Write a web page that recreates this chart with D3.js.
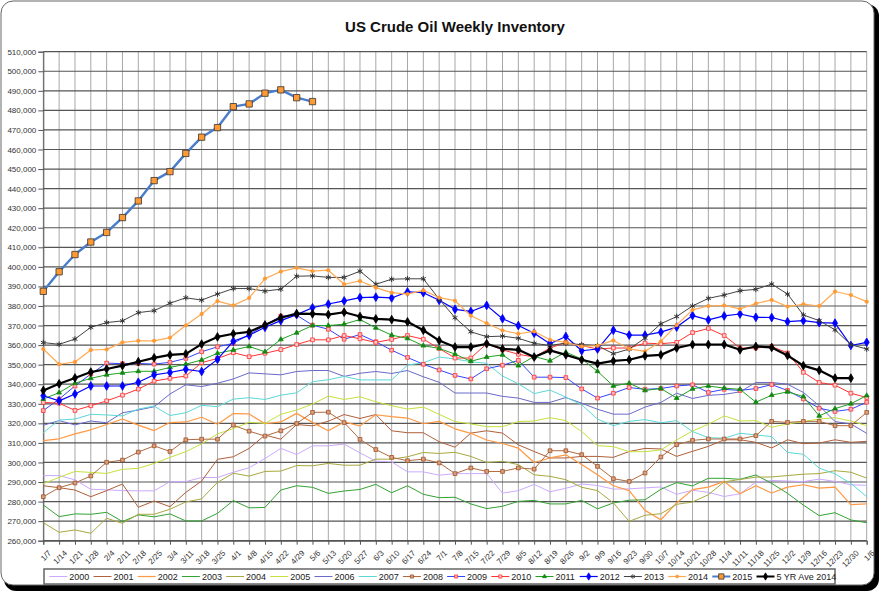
<!DOCTYPE html>
<html lang="en">
<head>
<meta charset="utf-8">
<title>US Crude Oil Weekly Inventory</title>
<script src="https://cdn.jsdelivr.net/npm/d3@7/dist/d3.min.js"></script>
<style>
  body { margin: 0; background: #fff; }
  text { font-family: Arial, "Liberation Sans", sans-serif; }
</style>
</head>
<body>
<script>
// week labels (x axis)
var weeks = ["1/7","1/14","1/21","1/28","2/4","2/11","2/18","2/25","3/4","3/11","3/18","3/25",
  "4/1","4/8","4/15","4/22","4/29","5/6","5/13","5/20","5/27","6/3","6/10","6/17","6/24",
  "7/1","7/8","7/15","7/22","7/29","8/5","8/12","8/19","8/26","9/2","9/9","9/16","9/23","9/30",
  "10/7","10/14","10/21","10/28","11/4","11/11","11/18","11/25","12/2","12/9","12/16","12/23","12/30","1/6"];

// y axis ticks, thousand barrels
var yTicks = [260,270,280,290,300,310,320,330,340,350,360,370,380,390,400,410,420,430,440,450,460,470,480,490,500,510];

// weekly inventory, thousand barrels (values in thousands of the axis unit)
var y2000 = [293.3,293.3,291.1,286.3,286,285.6,285.5,285.5,290.2,290.2,292.3,292.3,295,297.3,302,307.2,304.1,308.5,308.5,309.4,304.9,300.7,300.3,295.2,295.2,293.5,294.3,294.3,294.3,284.3,285.6,288.8,285,286.8,289,288.2,286.4,286.5,287,287.5,283.7,285.8,284.7,282.6,284,290,290.8,290.5,290.2,291.5,290.3,288.6,288.3];
var y2001 = [288.1,287.1,285.9,282.5,285.6,289,277.1,280.3,277.4,284.7,290.5,301.6,302.9,307.2,314,311.9,319.4,318.7,321.1,324.5,322.5,324.5,316.2,315.2,315.2,310.6,307.8,315,316.2,315,309,305.6,302.3,302.3,303.1,303.1,302.6,305.6,307.2,306.9,303.1,305.7,308.2,311.6,311.6,310.3,307.4,311.6,309.6,309.9,311.6,310.3,310.8];
var y2002 = [311.2,312.1,314.6,316.7,319.4,322.2,319.1,316.3,320.4,320.7,323.1,319.5,325,324.8,319.8,320.7,325.1,320.5,316.2,320.7,318.7,324.4,323.4,322.7,319.8,321,317.2,314.9,311.5,309.7,307.3,300,302.3,303.9,298.9,293.7,288.1,285.6,275.5,270.7,279.3,286.1,287.4,290.3,284,288.1,284.4,287.4,288.6,286.9,287.4,278.4,278.8];
var y2003 = [278.3,272.3,273.7,273.5,274.5,269.8,273.2,272.2,273.7,270.1,270.1,274,280.5,276.8,277,285.9,288.1,287.3,284.2,285.4,286.2,288.8,284.5,288.1,283.7,282,282.2,278.8,276.4,277.6,280.1,280.6,278.8,278.8,280.6,276.3,279.3,280.7,280.9,286.3,289.7,288,291.9,291.9,291.4,293.6,289.3,284.2,278.2,272.8,274.3,270.6,269.2];
var y2004 = [269.2,264.3,265.5,263.8,271.5,268.9,273.5,273.5,276.1,279.8,281.4,289.8,294.5,293,295.4,295.6,298.4,298.3,299.5,298.6,298.6,301.7,301.7,302.9,305.1,304.6,305.2,303.1,300,300.6,298.9,293.7,292.9,291.2,287.3,285.6,279.3,269.9,273,273.8,278.6,279.8,283.5,290.1,291.3,292.5,292.6,293.3,294,294.3,295.8,295,292];
var y2005 = [289.1,292.4,295.4,294.9,294.4,296.5,297,299.5,302.6,305.5,309.5,314.6,317.3,320.5,320,324.6,326.8,329.8,333.9,332.2,333.6,331,329,327.3,328.3,324.6,320.9,319.7,318.3,318.3,320.9,321.2,322.9,321.4,315.8,308.6,308.1,305.5,305.5,306.4,311.5,316.1,319.5,323.8,321.2,321.4,318,319.7,320.9,322.2,322.9,321.2,318.8];
var y2006 = [319,321.4,319.2,321.2,320.3,325.4,326.8,328.5,335,339.7,338.8,340.5,342.7,345.8,345.3,344.8,346.5,347,347,344,345.6,346.5,345.5,347,343.8,341,335.5,335.5,335.5,333.8,332.9,330.7,330.7,333.2,330.3,327.2,324.7,324.7,328.3,330.7,335.4,332.7,334.3,334.8,336.1,340.9,340.9,340,335.8,329,320.9,319.7,314.9];
var y2007 = [315.2,321.7,322.2,324.6,324.3,323.8,327.3,328.8,324,325.4,329.2,328.5,332.4,333.1,332.2,334.4,335.6,341.3,342.3,344,342.2,342.2,342.2,349.8,351,353.9,352.9,351.5,350.7,344.2,340.2,335.2,337,333.4,329.5,322.2,318.8,321,321.9,320.3,321.4,315.8,312.7,312.4,314.9,314.1,313.2,305.1,304.2,297.1,294.2,289.3,282.5];
var y2008 = [282.5,287.1,289.5,293.1,300.1,301.2,305.3,308.5,305.6,311.6,311.9,311.9,319.1,316,313.5,316.2,319.9,325.6,325.7,320.4,311.8,306.6,302.6,300.9,301.7,299.8,294.3,297.2,295.4,295.4,297.2,296.6,306,306,304,298,291.7,290.3,294.6,302.8,309.1,311.3,312,312,312,313.7,321,320.5,321,321,318.8,318.8,325.6];
var y2009 = [326.5,332.4,339.1,345.2,350.8,350.5,350.6,350.3,351.2,353.2,356.6,359.1,360.9,365.4,370.2,374.8,375.3,370.2,368.1,363,365.4,361.7,357.4,353.7,350.2,347.3,344.5,342.7,347.9,349.7,352.2,343.6,343.6,343.4,337.6,332.9,335.4,338.3,337.4,337.8,339.1,339.7,335.8,337.4,336.8,337.8,339.8,336.8,332.5,327.7,326.1,327.2,330.8];
var y2010 = [330.7,330.3,326.6,329,331.5,334.4,337.5,341.6,343,344.2,351,353.2,356.1,354.1,355.8,357.7,360.3,362.7,362.7,364.9,363.2,361.4,362.9,364.9,363,358.3,353.4,353.4,360.7,357.6,355.3,353.9,358.5,361.4,359.7,358,358.5,358.5,361,360.7,361.4,366.4,368.5,364.9,358.5,358.5,359.3,356,346.1,340.9,339.5,335.4,333.2];
var y2011 = [332.4,335.7,340.5,343,344.8,345.8,346.6,346.6,348.6,350.2,352.4,355.8,357.5,359.3,356.6,362.9,366.3,370,370,370.7,373.1,368.8,365.1,363.4,359.7,358.3,355.4,351.7,353.9,355,349.5,354.2,352,356.4,352.9,346.6,339.1,340.5,336.8,337.8,332.9,337.6,339.1,338,337.4,330.8,334.4,336.1,333.7,323.8,327.5,330,334.2];
var y2012 = [334.1,331.5,335,339.1,339.1,339.1,341,344.8,346,347.6,346.5,352.7,362,365,369.1,372.5,375.6,379.1,381,382.6,384.3,384.5,384.1,387.2,386.8,382.9,378.3,377.2,380.3,373.5,370,366.1,360.7,364.4,357.1,358,367.6,365.1,365.1,366.6,369.2,375.1,372.9,374.9,375.9,374.2,374.1,372,372.5,371.5,371.2,359.8,361.4];
var y2013 = [361.3,360.4,363.1,369.1,371.5,372.4,376.6,377.6,381.4,384.2,383,386.1,388.9,388.9,387.6,388.6,395.2,395.4,394.6,394.6,397.8,391.1,393.7,393.9,393.9,383.5,374,366.8,364.3,364.6,363.5,360.9,359.8,361,360.2,359.7,355.6,358,363.6,370.9,374.6,380,383.9,385.6,387.8,388.5,391.2,386.1,375.4,372.5,367.8,360.2,358];
var y2014 = [358,350.2,351.4,357.5,357.8,361.4,362.2,362.2,363.8,370.1,375.9,382.5,380.3,384.1,394,397.6,399.5,397.8,398.3,391.1,392.8,389.4,386.8,386.1,388,384.3,382.7,375,371.2,367.5,365.8,367,362.7,361.4,359.3,359.7,362.4,358.1,356.8,361.9,370.3,378,380,380.3,378.5,381.2,383.1,379.7,380.9,380,387.4,385.6,382.2];
var y2015 = [387.5,397.5,406.3,412.7,417.6,425.2,433.7,444.1,448.7,458,466.3,471.2,481.9,483.3,488.8,490.5,486.5,484.5];
var avg5 = [336.8,340.2,343.2,346.2,347.8,349.5,351.5,353.5,355,355.5,360.5,364.2,365.8,366.8,370.3,374,376.1,376,375.6,376.8,374.6,373.4,373,371.9,367.6,362.3,359,359,360.7,358.1,357.6,353.9,357.3,355,352.5,350.5,351.9,352.5,354.5,355,358.5,360.3,360.3,360.3,357.6,359.3,358.8,354.7,349.5,347.1,343.1,343.1];

var seriesNames = ["2000","2001","2002","2003","2004","2005","2006","2007","2008","2009","2010","2011","2012","2013","2014","2015","5 YR Ave 2014"];
var seriesValues = [y2000,y2001,y2002,y2003,y2004,y2005,y2006,y2007,y2008,y2009,y2010,y2011,y2012,y2013,y2014,y2015,avg5];

// styles per series
var styles = [
  {line:"#ccaaff", w:1},
  {line:"#b0603a", w:1},
  {line:"#ff9944", w:1.2},
  {line:"#33a333", w:1},
  {line:"#a8a840", w:1},
  {line:"#c4e23c", w:1},
  {line:"#6a6acc", w:1},
  {line:"#5cd8d8", w:1},
  {line:"#b06a40", w:1, sym:d3.symbolSquare, size:14, stroke:"#a0522d", fill:"#d9a07a"},
  {line:"#3344ff", w:1, sym:d3.symbolSquare, size:14, stroke:"#ff3333", fill:"#ffb0b0"},
  {line:"#ff3333", w:1, sym:d3.symbolSquare, size:14, stroke:"#ff3333", fill:"#ffcccc"},
  {line:"#22a022", w:1, sym:d3.symbolTriangle, size:10, stroke:"#118811", fill:"#118811"},
  {line:"#0000ff", w:1.2, sym:d3.symbolDiamond, size:22, stroke:"#0000ff", fill:"#0000ff"},
  {line:"#444444", w:1, sym:d3.symbolAsterisk, size:22, stroke:"#333333", fill:"none"},
  {line:"#ffaa55", w:1.2, sym:d3.symbolCircle, size:9, stroke:"#ff9933", fill:"#ff9933"},
  {line:"#4a7ccc", w:2.4, sym:d3.symbolSquare, size:40, stroke:"#333333", fill:"#ff9933"},
  {line:"#000000", w:2.2, sym:d3.symbolDiamond, size:22, stroke:"#000000", fill:"#000000"}
];

var width = 880, height = 592;
var padLeft = 43.3, padRight = 866.7, padTop = 51.7, padBottom = 540.7;

var svg = d3.select("body").append("svg").attr("width", width).attr("height", height);

// chart frame with shadow
svg.append("rect").attr("x", 4).attr("y", 4).attr("width", 875).attr("height", 587)
  .attr("rx", 12).attr("fill", "#000");
svg.append("rect").attr("x", 1).attr("y", 1).attr("width", 873).attr("height", 584)
  .attr("rx", 12).attr("fill", "#fff").attr("stroke", "#666").attr("stroke-width", 1);

var x = d3.scalePoint().domain(d3.range(weeks.length)).range([padLeft, padRight]);
var y = d3.scaleLinear().domain([260, 510]).range([padBottom, padTop]);

// vertical grid
svg.append("g").selectAll("line").data(d3.range(weeks.length)).enter().append("line")
  .attr("x1", function (d) { return x(d); }).attr("x2", function (d) { return x(d); })
  .attr("y1", padTop).attr("y2", padBottom)
  .attr("stroke", "#a8a8a8").attr("stroke-width", 1);

// horizontal grid
svg.append("g").selectAll("line").data(yTicks).enter().append("line")
  .attr("x1", padLeft).attr("x2", padRight)
  .attr("y1", function (d) { return y(d); }).attr("y2", function (d) { return y(d); })
  .attr("stroke", "#555").attr("stroke-width", 1.2);

// y axis
var yAxis = d3.axisLeft(y).tickValues(yTicks).tickSize(5).tickPadding(2)
  .tickFormat(function (d) { return d3.format(",")(d * 1000); });
var gy = svg.append("g").attr("transform", "translate(" + padLeft + ",0)").call(yAxis);
gy.select(".domain").attr("stroke", "#555");
gy.selectAll(".tick line").attr("stroke", "#555");
gy.selectAll("text").attr("font-size", "8px").attr("fill", "#333")
  .attr("font-family", "Arial, 'Liberation Sans', sans-serif");

// x axis
var xAxis = d3.axisBottom(x).tickSize(4).tickFormat(function (d) { return weeks[d]; });
var gx = svg.append("g").attr("transform", "translate(0," + padBottom + ")").call(xAxis);
gx.select(".domain").attr("stroke", "#555");
gx.selectAll(".tick line").attr("stroke", "#555");
gx.selectAll("text").attr("font-size", "8px").attr("fill", "#333")
  .attr("font-family", "Arial, 'Liberation Sans', sans-serif")
  .attr("text-anchor", "end")
  .attr("dx", "0").attr("dy", "0")
  .attr("transform", "translate(3,8) rotate(-45)");

// series
var line = d3.line()
  .defined(function (d) { return d != null; })
  .x(function (d, i) { return x(i); })
  .y(function (d) { return y(d); });

seriesValues.forEach(function (vals, k) {
  var st = styles[k];
  var g = svg.append("g");
  g.append("path").datum(vals).attr("d", line)
    .attr("fill", "none").attr("stroke", st.line).attr("stroke-width", st.w)
    .attr("stroke-linejoin", "round");
  if (st.sym) {
    g.selectAll("path.m").data(vals).enter().append("path").attr("class", "m")
      .attr("transform", function (d, i) { return "translate(" + x(i) + "," + y(d) + ")"; })
      .attr("d", d3.symbol().type(st.sym).size(st.size))
      .attr("fill", st.fill).attr("stroke", st.stroke)
      .attr("stroke-width", st.sym === d3.symbolAsterisk ? 1 : 0.8);
  }
});

// title
svg.append("text").attr("x", (padLeft + padRight) / 2).attr("y", 32)
  .attr("text-anchor", "middle").attr("font-size", "15px").attr("font-weight", "bold")
  .attr("fill", "#111").text("US Crude Oil Weekly Inventory");

// legend
var lg = svg.append("g");
lg.append("rect").attr("x", 44).attr("y", 569).attr("width", 791).attr("height", 15)
  .attr("fill", "#fff").attr("stroke", "#666").attr("stroke-width", 1.5);
seriesNames.forEach(function (name, k) {
  var st = styles[k];
  var lx = 49.3 + k * 44.2, ly = 576.5;
  lg.append("line").attr("x1", lx).attr("x2", lx + 18).attr("y1", ly).attr("y2", ly)
    .attr("stroke", st.line).attr("stroke-width", Math.min(st.w, 2));
  if (st.sym) {
    lg.append("path").attr("transform", "translate(" + (lx + 9) + "," + ly + ")")
      .attr("d", d3.symbol().type(st.sym).size(st.size * 0.7))
      .attr("fill", st.fill).attr("stroke", st.stroke).attr("stroke-width", 0.8);
  }
  lg.append("text").attr("x", lx + 20).attr("y", ly + 3.2)
    .attr("font-size", "9px").attr("fill", "#222").text(name);
});
</script>
</body>
</html>
